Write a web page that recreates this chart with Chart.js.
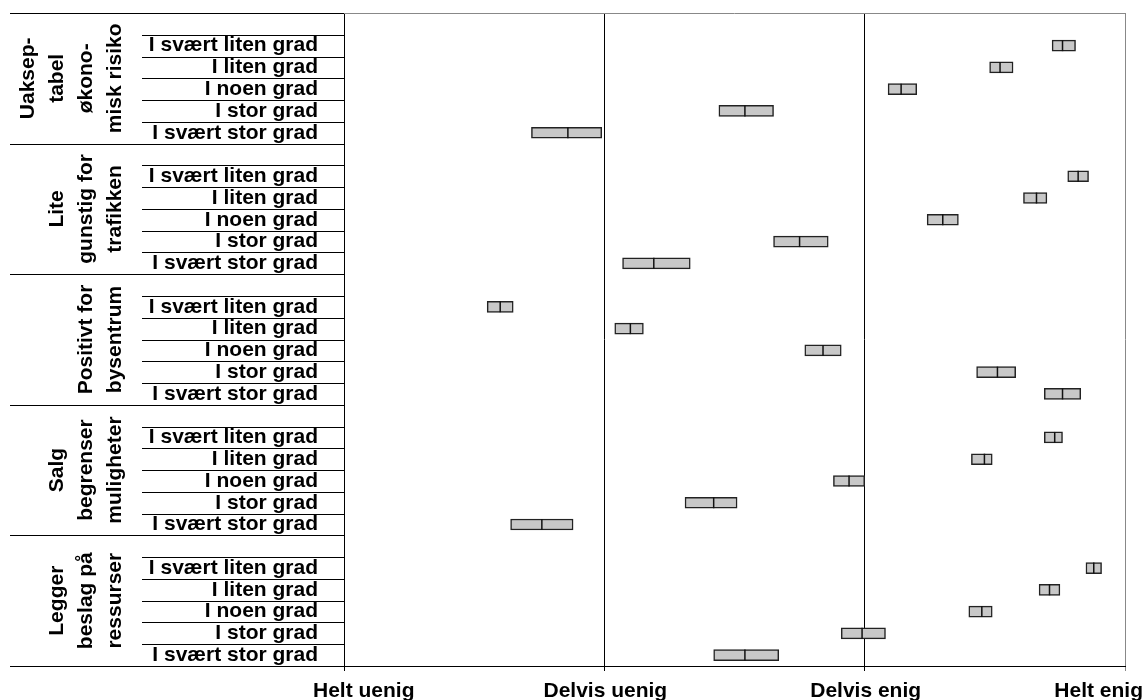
<!DOCTYPE html>
<html lang="no">
<head>
<meta charset="utf-8">
<title>Vurderinger</title>
<script src="https://cdn.jsdelivr.net/npm/chart.js@4.4.1/dist/chart.umd.min.js"></script>
<style>
  body { margin: 0; background: #fff; }
  #diagram { display: block; }
</style>
</head>
<body>
<canvas id="diagram" width="1147" height="700"></canvas>
<script>
// gruppenavn, én linje per tekstrad
const grupper = [
  ['Uaksep-', 'tabel', 'økono-', 'misk risiko'],
  ['Lite', 'gunstig for', 'trafikken'],
  ['Positivt for', 'bysentrum'],
  ['Salg', 'begrenser', 'muligheter'],
  ['Legger', 'beslag på', 'ressurser']
];
const grader = ['I svært liten grad', 'I liten grad', 'I noen grad', 'I stor grad', 'I svært stor grad'];
const svar = ['Helt uenig', 'Delvis uenig', 'Delvis enig', 'Helt enig'];

// 5 grupper x 5 grader
const nedre = [
  3.72, 3.48, 3.09, 2.44, 1.72,
  3.78, 3.61, 3.24, 2.65, 2.07,
  1.55, 2.04, 2.77, 3.43, 3.69,
  3.69, 3.41, 2.88, 2.31, 1.64,
  3.85, 3.67, 3.40, 2.91, 2.42
];
const ovre = [
  3.81, 3.57, 3.20, 2.65, 1.99,
  3.86, 3.70, 3.36, 2.86, 2.33,
  1.65, 2.15, 2.91, 3.58, 3.83,
  3.76, 3.49, 3.00, 2.51, 1.88,
  3.91, 3.75, 3.49, 3.08, 2.67
];
const snitt = [
  3.76, 3.52, 3.14, 2.54, 1.86,
  3.82, 3.66, 3.30, 2.75, 2.19,
  1.60, 2.10, 2.84, 3.51, 3.76,
  3.73, 3.46, 2.94, 2.42, 1.76,
  3.88, 3.71, 3.45, 2.99, 2.54
];

document.addEventListener('DOMContentLoaded', () => {
  const font = '"Liberation Sans", Arial, sans-serif';
  Chart.defaults.font.family = font;

  // bygg rader: en tom rad øverst i hver gruppe
  const etiketter = [];
  const intervaller = [];
  const midt = [];
  grupper.forEach((g, gi) => {
    etiketter.push('');
    intervaller.push(null);
    midt.push(null);
    grader.forEach((gr, i) => {
      const k = gi * 5 + i;
      etiketter.push(gr);
      intervaller.push([nedre[k], ovre[k]]);
      midt.push(snitt[k]);
    });
  });

  const tegnekstra = {
    id: 'tegnekstra',
    afterDatasetsDraw(chart) {
      const c = chart.ctx;
      const x = chart.scales.x;

      // midtstrek i hvert intervall
      const meta = chart.getDatasetMeta(0);
      c.save();
      c.strokeStyle = '#111';
      c.lineWidth = 1.5;
      meta.data.forEach((el, i) => {
        if (midt[i] == null) return;
        const p = el.getProps(['y', 'height'], true);
        const px = x.getPixelForValue(midt[i]);
        c.beginPath();
        c.moveTo(px, p.y - p.height / 2);
        c.lineTo(px, p.y + p.height / 2);
        c.stroke();
      });
      c.restore();
    },
    afterDraw(chart) {
      const c = chart.ctx;
      const x = chart.scales.x;
      const y = chart.scales.y;
      const area = chart.chartArea;
      c.save();

      // ramme øverst
      c.strokeStyle = '#888';
      c.lineWidth = 1;
      c.beginPath();
      c.moveTo(area.left, Math.round(area.top) + 0.5);
      c.lineTo(area.right, Math.round(area.top) + 0.5);
      c.stroke();

      // skillelinjer til venstre
      c.strokeStyle = '#000';
      for (let g = 0; g <= grupper.length; g++) {
        const py = Math.round(y.getPixelForValue(g * 6 - 0.5)) + 0.5;
        c.beginPath();
        c.moveTo(10, py);
        c.lineTo(area.left, py);
        c.stroke();
      }
      for (let g = 0; g < grupper.length; g++) {
        for (let j = 0; j < 5; j++) {
          const py = Math.round(y.getPixelForValue(g * 6 + j + 0.5)) + 0.5;
          c.beginPath();
          c.moveTo(142, py);
          c.lineTo(area.left, py);
          c.stroke();
        }
      }

      // gruppenavn, rotert
      c.fillStyle = '#000';
      c.font = 'bold 21px ' + font;
      c.textAlign = 'center';
      c.textBaseline = 'middle';
      grupper.forEach((linjer, g) => {
        const midtY = (y.getPixelForValue(g * 6 - 0.5) + y.getPixelForValue(g * 6 + 5.5)) / 2;
        linjer.forEach((tekst, i) => {
          const lx = 115 - (linjer.length - 1 - i) * 29;
          c.save();
          c.translate(lx, midtY);
          c.rotate(-Math.PI / 2);
          c.fillText(tekst, 0, 0);
          c.restore();
        });
      });

      // svaralternativer under aksen
      c.textBaseline = 'alphabetic';
      svar.forEach((tekst, i) => {
        const px = x.getPixelForValue(i + 1);
        if (i === 0) {
          c.textAlign = 'left';
          c.fillText(tekst, px - 31, 697);
        } else if (i === svar.length - 1) {
          c.textAlign = 'right';
          c.fillText(tekst, px + 18, 697);
        } else {
          c.textAlign = 'center';
          c.fillText(tekst, px + 1, 697);
        }
      });
      c.restore();
    }
  };

  const ctx = document.getElementById('diagram').getContext('2d');
  new Chart(ctx, {
    type: 'bar',
    data: {
      labels: etiketter,
      datasets: [{
        data: intervaller,
        backgroundColor: '#c8c8c8',
        borderColor: '#222',
        borderWidth: 1.5,
        borderSkipped: false,
        barThickness: 11
      }]
    },
    options: {
      indexAxis: 'y',
      responsive: false,
      animation: false,
      layout: { padding: { top: 13, right: 22, left: 0, bottom: 0 } },
      plugins: {
        legend: { display: false },
        tooltip: { enabled: false }
      },
      scales: {
        x: {
          type: 'linear',
          min: 1,
          max: 4,
          afterFit: s => {
            s.height = 34;
            s.paddingLeft = 0;
            s.paddingRight = 0;
          },
          ticks: { stepSize: 1, display: false },
          grid: {
            color: c => (c.tick && c.tick.value === 4 ? '#888' : '#000'),
            lineWidth: 1,
            drawTicks: true,
            tickLength: 5
          },
          border: { color: '#000', width: 1 }
        },
        y: {
          afterFit: s => {
            s.width = 344;
            s.paddingTop = 0;
            s.paddingBottom = 0;
          },
          grid: { display: false, drawTicks: false },
          border: { color: '#000', width: 1 },
          ticks: {
            autoSkip: false,
            padding: 26,
            color: '#000',
            font: { size: 21, weight: 'bold' }
          }
        }
      }
    },
    plugins: [tegnekstra]
  });
});
</script>
</body>
</html>
